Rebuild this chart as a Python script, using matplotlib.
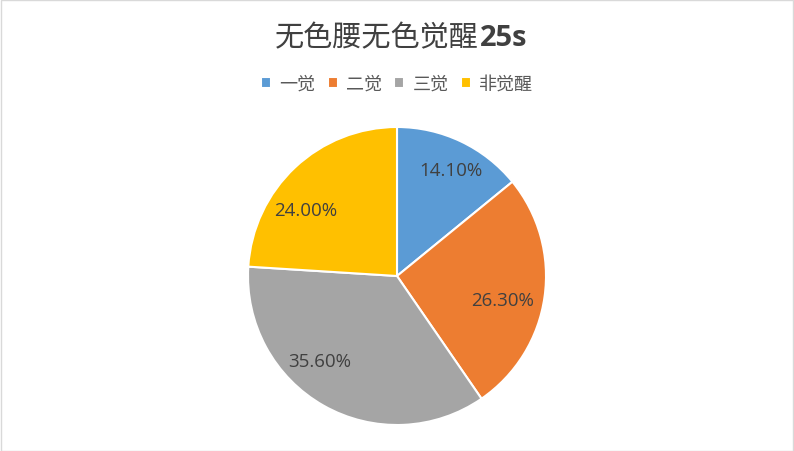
import matplotlib.pyplot as plt
from matplotlib.patches import Rectangle

plt.rcParams['font.family'] = ['Noto Sans CJK SC', 'DejaVu Sans']

labels = ["一觉", "二觉", "三觉", "非觉醒"]
values = [14.10, 26.30, 35.60, 24.00]
colors = ["#5B9BD5", "#ED7D31", "#A5A5A5", "#FFC000"]
title_cn = "无色腰无色觉醒"
title_num = "25s"

# where Excel put each percentage, in units of the pie radius
label_pos = [(0.36, 0.71), (0.71, -0.16), (-0.52, -0.57), (-0.61, 0.44)]

W, H = 794, 452
fig = plt.figure(figsize=(W / 100, H / 100), dpi=100)

# light grey frame round the whole chart
fig.patches.append(Rectangle((0.5 / W, 0.5 / H), 1 - 1.5 / W, 1 - 1.5 / H,
                             transform=fig.transFigure, fill=False,
                             edgecolor="#D9D9D9", linewidth=1))

# pie centre ~ (397, 277) px, radius ~149 px
cx, cy, r = 397, 277, 149
ax = fig.add_axes([(cx - r) / W, (H - cy - r) / H, 2 * r / W, 2 * r / H])
wedges, _, pcts = ax.pie(values, colors=colors, startangle=90, counterclock=False,
                         autopct="%.2f%%", pctdistance=0.74, radius=1,
                         wedgeprops=dict(edgecolor="white", linewidth=1.5),
                         textprops=dict(color="#404040", fontsize=13.5,
                                        family=["Open Sans", "DejaVu Sans"]))
for t, p in zip(pcts, label_pos):
    t.set_position(p)
ax.set_xlim(-1, 1)
ax.set_ylim(-1, 1)
ax.set_aspect("equal")
ax.axis("off")

ty = 1 - 38 / H
fig.text(479 / W, ty, title_cn, ha="right", va="center",
         fontsize=21, color="#404040")
fig.text(480 / W, ty, title_num, ha="left", va="center",
         fontsize=21, color="#404040", fontweight="bold",
         family=["Open Sans", "DejaVu Sans"])

fig.legend(wedges, labels, loc="center", bbox_to_anchor=(0.5, 1 - 85 / H),
           ncol=4, frameon=False, fontsize=13, labelcolor="#595959",
           handlelength=0.55, handleheight=0.55, handletextpad=0.45,
           columnspacing=0.7)

fig.savefig("out.png", dpi=100)
plt.close(fig)
